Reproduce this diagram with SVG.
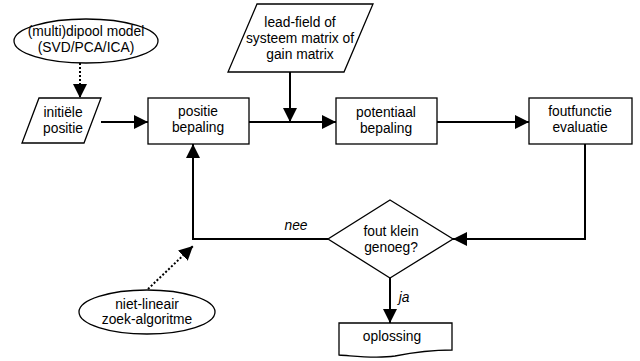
<svg xmlns="http://www.w3.org/2000/svg" width="640" height="361" viewBox="0 0 640 361">
<style>
.s{fill:#fff;stroke:#000;stroke-width:1.3}
.t{font-family:"Liberation Sans",Arial,sans-serif;font-size:13.8px;fill:#000;text-anchor:middle}
.i{font-style:italic}
.c{fill:none;stroke:#000;stroke-width:2}
.d{fill:none;stroke:#000;stroke-width:2;stroke-dasharray:2 2}
</style>
<defs>
<marker id="a" markerWidth="14" markerHeight="14" refX="14" refY="7" orient="auto" markerUnits="userSpaceOnUse">
<path d="M0,0 L14,7 L0,14 Z" fill="#000"/>
</marker>
</defs>
<rect width="640" height="361" fill="#fff"/>
<g id="connectors">
<path class="d" d="M80,63 L80,98" marker-end="url(#a)"/>
<path class="c" d="M101,122 L148,122" marker-end="url(#a)"/>
<path class="c" d="M290,72 L290,122" marker-end="url(#a)"/>
<path class="c" d="M249,122 L336,122" marker-end="url(#a)"/>
<path class="c" d="M437,122 L529,122" marker-end="url(#a)"/>
<path class="c" d="M585,144 L585,239 L453,239" marker-end="url(#a)"/>
<path class="c" d="M328,239 L193,239 L193,144" marker-end="url(#a)"/>
<path class="d" d="M148,289 L193,246" marker-end="url(#a)"/>
<path class="c" d="M390,278 L390,323" marker-end="url(#a)"/>
<text class="t i" x="296" y="230">nee</text>
<text class="t i" x="404" y="302">ja</text>
</g>
<g id="model">
<ellipse class="s" cx="86" cy="41" rx="72" ry="22"/>
<text class="t" x="86" y="36">(multi)dipool model</text>
<text class="t" x="86" y="52">(SVD/PCA/ICA)</text>
</g>
<g id="initiele">
<polygon class="s" points="39,98 101,98 84,143 22,143"/>
<text class="t" x="63" y="117">initiële</text>
<text class="t" x="63" y="133">positie</text>
</g>
<g id="positie">
<rect class="s" x="148" y="98" width="101" height="46"/>
<text class="t" x="198" y="116">positie</text>
<text class="t" x="198" y="132">bepaling</text>
</g>
<g id="leadfield">
<polygon class="s" points="257,4 373,4 344,72 228,72"/>
<text class="t" x="300" y="27">lead-field of</text>
<text class="t" x="300" y="43">systeem matrix of</text>
<text class="t" x="300" y="59">gain matrix</text>
</g>
<g id="potentiaal">
<rect class="s" x="336" y="98" width="101" height="46"/>
<text class="t" x="386" y="117">potentiaal</text>
<text class="t" x="386" y="133">bepaling</text>
</g>
<g id="foutfunctie">
<rect class="s" x="529" y="98" width="103" height="46"/>
<text class="t" x="580" y="116">foutfunctie</text>
<text class="t" x="580" y="132">evaluatie</text>
</g>
<g id="beslissing">
<polygon class="s" points="390,200 453,239 390,278 328,239"/>
<text class="t" x="391" y="236">fout klein</text>
<text class="t" x="391" y="252">genoeg?</text>
</g>
<g id="zoek">
<ellipse class="s" cx="147" cy="312" rx="68" ry="22"/>
<text class="t" x="147" y="309">niet-lineair</text>
<text class="t" x="147" y="324">zoek-algoritme</text>
</g>
<g id="oplossing">
<path class="s" d="M339,323 L452,323 L452,350 C430,350 410,353 395,356 C375,359 355,356 339,355 Z"/>
<text class="t" x="392" y="341">oplossing</text>
</g>
</svg>
